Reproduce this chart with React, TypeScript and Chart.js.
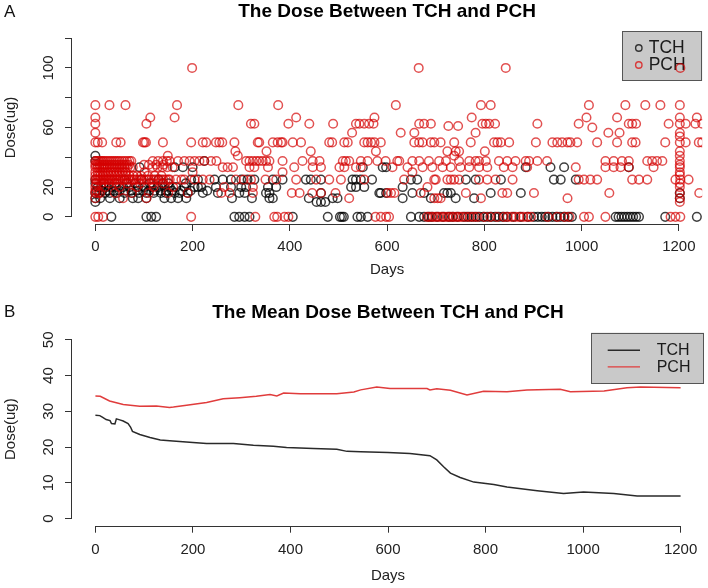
import React, { useEffect, useRef } from 'react';
import { Chart, registerables } from 'chart.js';

Chart.register(...registerables);

const FONT = "'Liberation Sans', Arial, Helvetica, sans-serif";
const INK = '#222222';

// ---------- axes ----------
const dayTicks = [0, 200, 400, 600, 800, 1000, 1200];
const dayRange = [-48, 1248];
const topDoseTicks = [0, 20, 40, 60, 80, 100, 120];
const topDoseLabelled = [0, 20, 60, 100];
const topDoseRange = [-4.8, 124.8];
const meanDoseTicks = [0, 10, 20, 30, 40, 50];
const meanDoseRange = [-2, 52];

const seriesNames = ['TCH', 'PCH'];
const titleA = 'The Dose Between TCH and PCH';
const titleB = 'The Mean Dose Between TCH and PCH';

// ---------- panel A : PCH doses (days at each dose level) ----------
const pch100 = [199, 665, 844, 1203];
const pch75 = [0, 29, 62, 168, 294, 376, 618, 793, 813, 1015, 1090, 1131, 1162, 1202];
const pch67 = [0, 113, 163, 413, 574, 774, 1010, 1073, 1202, 1237];
const pch625 = [0, 105, 320, 327, 397, 440, 489, 536, 543, 553, 563, 572, 666, 676, 690, 796, 803, 810, 822, 909, 994, 1097, 1104, 1112, 1179, 1202, 1214, 1234, 1248];
const pch50 = [0, 5, 14, 43, 52, 98, 101, 104, 139, 197, 221, 228, 248, 255, 261, 286, 334, 337, 365, 375, 382, 385, 406, 423, 481, 487, 512, 519, 553, 560, 567, 574, 587, 656, 666, 673, 690, 697, 710, 738, 772, 820, 827, 834, 851, 906, 940, 950, 960, 971, 977, 991, 1032, 1073, 1104, 1111, 1172, 1202, 1214, 1241, 1248];
const pch44 = [288, 352, 443, 577, 724, 741, 748, 801, 1202];
const pch41 = [149, 293, 738, 1202];
const pch375 = [0, 3, 6, 9, 12, 15, 18, 22, 26, 30, 34, 38, 42, 46, 50, 55, 60, 65, 70, 74, 118, 129, 139, 147, 153, 170, 183, 194, 204, 214, 224, 238, 249, 310, 317, 324, 331, 337, 344, 351, 358, 385, 426, 447, 461, 509, 515, 522, 546, 560, 580, 597, 621, 625, 652, 666, 686, 707, 721, 748, 769, 782, 789, 803, 830, 847, 864, 885, 892, 909, 929, 1049, 1066, 1083, 1097, 1135, 1145, 1155, 1166, 1202];
const pch35 = [0, 4, 9, 14, 19, 24, 29, 34, 39, 44, 49, 54, 59, 64, 69, 100, 110, 125, 140];
const pch333 = [0, 4, 8, 12, 16, 20, 25, 30, 35, 40, 45, 50, 55, 60, 66, 72, 77, 118, 128, 138, 148, 159, 262, 272, 283, 317, 327, 355, 409, 447, 464, 502, 512, 536, 546, 611, 642, 673, 693, 714, 731, 751, 769, 789, 806, 840, 858, 888, 988, 1049, 1066, 1080, 1097, 1148, 1202];
const pch30 = [0, 5, 10, 15, 20, 26, 32, 38, 44, 50, 56, 62, 101, 200, 385, 652, 1202];
const pch275 = [0, 5, 10, 16, 22, 28, 34, 40, 46, 52, 58, 64, 70, 78, 86, 94, 108, 122, 136];
const pch25 = [0, 3, 6, 9, 12, 15, 18, 21, 24, 27, 30, 33, 36, 40, 44, 48, 52, 56, 60, 64, 68, 72, 76, 80, 85, 90, 95, 100, 105, 110, 115, 120, 125, 130, 135, 140, 145, 150, 153, 166, 177, 183, 204, 221, 235, 289, 305, 320, 350, 372, 413, 454, 481, 505, 553, 635, 697, 700, 724, 731, 738, 748, 789, 806, 823, 858, 994, 1005, 1018, 1032, 1104, 1118, 1135, 1193, 1203, 1220];
const pch225 = [2, 12, 28, 45, 66, 92, 118, 140];
const pch20 = [0, 20, 50, 85, 120, 160, 265, 324, 683, 1202];
const pch16 = [0, 5, 10, 40, 75, 110, 150, 190, 259, 276, 324, 404, 420, 446, 464, 494, 601, 608, 615, 669, 762, 837, 847, 902, 1057, 1202, 1242];
const pch125 = [0, 57, 105, 522, 697, 704, 710, 793, 971, 1202];
const pch0 = [0, 6, 16, 197, 329, 368, 374, 389, 397, 576, 587, 598, 604, 682, 688, 694, 700, 706, 712, 718, 724, 730, 736, 742, 748, 754, 762, 770, 778, 786, 800, 812, 826, 840, 848, 856, 864, 872, 880, 888, 896, 930, 950, 965, 975, 1005, 1015, 1049, 1183, 1193, 1203];
const pchOther = [[0, 56.5], [528, 56.5], [628, 56.5], [656, 56.5], [782, 56.5], [1055, 56.5], [1078, 56.5], [726, 61], [746, 61], [1022, 60], [1202, 56.5], [1202, 54], [1202, 28], [1202, 22.5], [0, 17.5], [1202, 35], [1202, 10]];

// ---------- panel A : TCH doses ----------
const tch41 = [0];
const tch375 = [0, 224];
const tch333 = [91, 163, 180, 200, 550, 591, 598, 885, 936, 964, 1097];
const tch25 = [0, 60, 95, 130, 197, 211, 245, 262, 279, 300, 313, 327, 365, 385, 433, 443, 464, 529, 536, 546, 569, 649, 662, 762, 782, 834, 943, 957, 988];
const tch225 = [0, 18, 40, 64, 82, 112, 138, 150, 186];
const tch20 = [5, 12, 22, 33, 43, 57, 70, 88, 101, 115, 129, 142, 153, 166, 183, 204, 211, 218, 248, 279, 300, 310, 355, 372, 526, 536, 553, 632];
const tch175 = [2, 14, 26, 38, 50, 62, 74, 86, 98, 110, 122, 134, 146, 158, 176, 196, 230];
const tch16 = [0, 8, 20, 30, 45, 60, 75, 90, 105, 120, 135, 145, 163, 173, 190, 221, 252, 296, 307, 351, 358, 464, 584, 587, 598, 652, 676, 717, 724, 731, 813, 875, 1202];
const tch125 = [0, 10, 30, 50, 77, 88, 105, 142, 156, 170, 187, 281, 322, 358, 365, 439, 488, 498, 632, 690, 741, 779, 1202];
const tch10 = [0, 455, 464, 473];
const tch0 = [33, 105, 115, 125, 286, 296, 307, 317, 406, 478, 503, 507, 511, 539, 546, 560, 649, 666, 676, 685, 692, 703, 715, 727, 735, 745, 758, 766, 774, 782, 790, 798, 806, 814, 822, 830, 838, 846, 860, 875, 890, 902, 910, 918, 925, 932, 940, 948, 956, 964, 972, 980, 1070, 1076, 1082, 1088, 1094, 1100, 1106, 1112, 1118, 1172, 1237];

const pchLevels: [number, number[]][] = [
  [100, pch100], [75, pch75], [66.7, pch67], [62.5, pch625], [50, pch50], [44, pch44], [41, pch41],
  [37.5, pch375], [35, pch35], [33.3, pch333], [30, pch30], [27.5, pch275], [25, pch25], [22.5, pch225],
  [20, pch20], [16, pch16], [12.5, pch125], [0, pch0],
];
const tchLevels: [number, number[]][] = [
  [41, tch41], [37.5, tch375], [33.3, tch333], [25, tch25], [22.5, tch225], [20, tch20], [17.5, tch175],
  [16, tch16], [12.5, tch125], [10, tch10], [0, tch0],
];

// ---------- panel B : running mean dose ----------
const tchMeanDays = [0, 9, 15, 22, 30, 33, 40, 43, 50, 57, 67, 72, 76, 91, 112, 133, 159, 200, 228, 283, 324, 365, 392, 447, 495, 516, 544, 600, 645, 686, 700, 714, 728, 748, 776, 817, 844, 906, 960, 1001, 1063, 1111, 1200];
const tchMean = [28.9, 28.8, 28.3, 27.7, 27.4, 26.6, 26.5, 27.9, 27.6, 27.3, 26.6, 25.6, 24.4, 23.5, 22.7, 22.0, 21.7, 21.3, 21.0, 21.0, 20.5, 20.2, 19.9, 19.6, 19.4, 18.8, 18.7, 18.5, 18.2, 17.6, 16.4, 14.5, 12.7, 11.5, 10.2, 9.5, 8.8, 7.8, 7.0, 7.4, 7.0, 6.3, 6.3];
const pchMeanDays = [0, 10, 29, 57, 91, 125, 152, 160, 187, 228, 262, 296, 330, 358, 372, 386, 420, 461, 495, 530, 544, 577, 604, 680, 686, 700, 728, 762, 796, 844, 885, 953, 974, 1043, 1090, 1118, 1200];
const pchMean = [34.3, 34.2, 32.9, 31.9, 31.4, 31.5, 31.1, 31.2, 31.7, 32.5, 33.5, 33.8, 34.2, 34.7, 34.3, 35.1, 34.9, 34.9, 34.9, 35.4, 36.0, 36.8, 36.4, 36.4, 36.0, 36.3, 35.9, 34.6, 35.6, 35.5, 36.0, 36.2, 35.5, 35.7, 36.6, 36.8, 36.6];

// ---------- colours ----------
const tchPointColor = 'rgba(0,0,0,0.75)';
const pchPointColor = 'rgba(212,0,0,0.68)';
const tchLineColor = '#2a2a2a';
const pchLineColor = '#e03c3c';

function levelPoints(levels: [number, number[]][], extra: number[][] = []) {
  const out: { x: number; y: number }[] = [];
  levels.forEach(([dose, days]) => days.forEach((d) => out.push({ x: d, y: dose })));
  extra.forEach(([d, v]) => out.push({ x: d, y: v }));
  return out;
}

function pairPoints(xs: number[], ys: number[]) {
  return xs.map((x, i) => ({ x, y: ys[i] }));
}

// R-style axis lines: only from first to last tick
const rAxisPlugin = {
  id: 'rAxis',
  afterDraw(chart: any) {
    const { ctx, chartArea } = chart;
    const xs = chart.scales.x;
    const ys = chart.scales.y;
    const xt = xs.ticks;
    const yt = ys.ticks;
    ctx.save();
    ctx.strokeStyle = '#333';
    ctx.lineWidth = 1;
    ctx.beginPath();
    const by = Math.round(chartArea.bottom) + 0.5;
    ctx.moveTo(xs.getPixelForValue(xt[0].value), by);
    ctx.lineTo(xs.getPixelForValue(xt[xt.length - 1].value), by);
    const lx = Math.round(chartArea.left) - 0.5;
    ctx.moveTo(lx, ys.getPixelForValue(yt[0].value));
    ctx.lineTo(lx, ys.getPixelForValue(yt[yt.length - 1].value));
    ctx.stroke();
    ctx.restore();
  },
};

// R-style legend box in the top-right corner of the plot region
const rLegendPlugin = {
  id: 'rLegend',
  beforeDatasetsDraw(chart: any, _args: any, opts: any) {
    if (!opts || !opts.width) return;
    const { ctx, chartArea } = chart;
    const x1 = chartArea.right - opts.width;
    const y1 = chartArea.top;
    ctx.save();
    ctx.fillStyle = '#c9c9c9';
    ctx.fillRect(x1, y1, opts.width, opts.height);
    ctx.strokeStyle = '#555';
    ctx.lineWidth = 1;
    ctx.strokeRect(Math.round(x1) + 0.5, Math.round(y1) + 0.5, opts.width - 1, opts.height - 1);
    chart.data.datasets.forEach((ds: any, i: number) => {
      const yy = y1 + opts.firstRow + i * opts.rowGap;
      ctx.strokeStyle = ds.legendColor || ds.borderColor;
      ctx.lineWidth = 1.4;
      ctx.beginPath();
      if (opts.kind === 'point') {
        ctx.arc(x1 + opts.symX, yy, 3.2, 0, Math.PI * 2);
      } else {
        ctx.moveTo(x1 + opts.symX, yy);
        ctx.lineTo(x1 + opts.symX2, yy);
      }
      ctx.stroke();
      ctx.fillStyle = '#1a1a1a';
      ctx.font = `${opts.fontSize}px ${FONT}`;
      ctx.textBaseline = 'middle';
      ctx.textAlign = 'left';
      ctx.fillText(ds.label, x1 + opts.textX, yy + 0.5);
    });
    ctx.restore();
  },
};

const gridOpts = {
  display: true,
  drawOnChartArea: false,
  drawTicks: true,
  tickLength: 7,
  color: '#333',
  lineWidth: 1,
};

function xAxis(labelPad: number, titlePadBottom: number, height: number) {
  return {
    type: 'linear',
    position: 'bottom',
    min: dayRange[0],
    max: dayRange[1],
    afterBuildTicks: (s: any) => {
      s.ticks = dayTicks.map((v) => ({ value: v }));
    },
    afterFit: (s: any) => {
      s.height = height;
    },
    ticks: {
      autoSkip: false,
      minRotation: 0,
      maxRotation: 0,
      padding: labelPad,
      color: INK,
      font: { family: FONT, size: 15 },
      callback: (v: any) => String(v),
    },
    grid: gridOpts,
    border: { display: false },
    title: {
      display: true,
      text: 'Days',
      color: INK,
      font: { family: FONT, size: 15 },
      padding: { top: 0, bottom: titlePadBottom },
    },
  };
}

function yAxis(range: number[], tickVals: number[], labelled: number[], labelPad: number) {
  return {
    type: 'linear',
    position: 'left',
    min: range[0],
    max: range[1],
    afterBuildTicks: (s: any) => {
      s.ticks = tickVals.map((v) => ({ value: v }));
    },
    afterFit: (s: any) => {
      s.width = 72;
    },
    ticks: {
      autoSkip: false,
      minRotation: 90,
      maxRotation: 90,
      crossAlign: 'center',
      padding: labelPad,
      color: INK,
      font: { family: FONT, size: 15 },
      callback: (v: any) => (labelled.includes(v) ? String(v) : ''),
    },
    grid: gridOpts,
    border: { display: false },
    title: {
      display: true,
      text: 'Dose(ug)',
      color: INK,
      font: { family: FONT, size: 15 },
      padding: { top: 2, bottom: 0 },
    },
  };
}

export default function App() {
  const topRef = useRef<HTMLCanvasElement | null>(null);
  const botRef = useRef<HTMLCanvasElement | null>(null);

  useEffect(() => {
    const top = new Chart(topRef.current as HTMLCanvasElement, {
      type: 'scatter',
      data: {
        datasets: [
          {
            label: seriesNames[0],
            data: levelPoints(tchLevels),
            borderColor: tchPointColor,
            legendColor: '#333',
            backgroundColor: 'rgba(0,0,0,0)',
            pointRadius: 4.3,
            pointBorderWidth: 1.5,
            order: 2,
          } as any,
          {
            label: seriesNames[1],
            data: levelPoints(pchLevels, pchOther),
            borderColor: pchPointColor,
            legendColor: '#d83a3a',
            backgroundColor: 'rgba(0,0,0,0)',
            pointRadius: 4.3,
            pointBorderWidth: 1.5,
            order: 1,
          } as any,
        ],
      },
      options: {
        animation: false,
        responsive: false,
        devicePixelRatio: 1,
        layout: { padding: { left: 0, right: 4, top: 0, bottom: 0 } },
        scales: {
          x: xAxis(7, 11, 66) as any,
          y: yAxis(topDoseRange, topDoseTicks, topDoseLabelled, 3.5) as any,
        },
        plugins: {
          legend: { display: false },
          tooltip: { enabled: false },
          title: {
            display: true,
            text: titleA,
            fullSize: false,
            color: '#000',
            font: { family: FONT, size: 19, weight: 'bold' },
            padding: { top: 0, bottom: 8.2 },
          },
          rLegend: { kind: 'point', width: 80, height: 50, firstRow: 17, rowGap: 17, symX: 16.6, textX: 26.5, fontSize: 17.5 },
        } as any,
      },
      plugins: [rAxisPlugin, rLegendPlugin],
    });

    const bottom = new Chart(botRef.current as HTMLCanvasElement, {
      type: 'line',
      data: {
        datasets: [
          {
            label: seriesNames[0],
            data: pairPoints(tchMeanDays, tchMean),
            borderColor: tchLineColor,
            borderWidth: 1.5,
            pointRadius: 0,
            tension: 0,
            fill: false,
          },
          {
            label: seriesNames[1],
            data: pairPoints(pchMeanDays, pchMean),
            borderColor: pchLineColor,
            borderWidth: 1.5,
            pointRadius: 0,
            tension: 0,
            fill: false,
          },
        ],
      },
      options: {
        animation: false,
        responsive: false,
        devicePixelRatio: 1,
        layout: { padding: { left: 0, right: 4, top: 0, bottom: 0 } },
        scales: {
          x: xAxis(8.3, 3, 62.3) as any,
          y: yAxis(meanDoseRange, meanDoseTicks, meanDoseTicks, 7.7) as any,
        },
        plugins: {
          legend: { display: false },
          tooltip: { enabled: false },
          title: {
            display: true,
            text: titleB,
            fullSize: false,
            color: '#000',
            font: { family: FONT, size: 19, weight: 'bold' },
            padding: { top: 11.3, bottom: 8.6 },
          },
          rLegend: { kind: 'line', width: 113, height: 51, firstRow: 17.5, rowGap: 16.7, symX: 16.7, symX2: 49, textX: 65.7, fontSize: 16 },
        } as any,
      },
      plugins: [rAxisPlugin, rLegendPlugin],
    });

    return () => {
      top.destroy();
      bottom.destroy();
    };
  }, []);

  const panelLabel: React.CSSProperties = {
    position: 'absolute',
    left: 4,
    fontFamily: FONT,
    fontSize: 17,
    lineHeight: '17px',
    color: '#111',
  };

  return (
    <div style={{ position: 'absolute', left: 0, top: 0, width: 708, height: 588, background: '#fff', overflow: 'hidden' }}>
      <canvas ref={topRef} width={708} height={290} style={{ position: 'absolute', left: 0, top: 0, width: 708, height: 290, display: 'block' }} />
      <canvas ref={botRef} width={708} height={298} style={{ position: 'absolute', left: 0, top: 290, width: 708, height: 298, display: 'block' }} />
      <div style={{ ...panelLabel, top: 3 }}>A</div>
      <div style={{ ...panelLabel, top: 303 }}>B</div>
    </div>
  );
}
